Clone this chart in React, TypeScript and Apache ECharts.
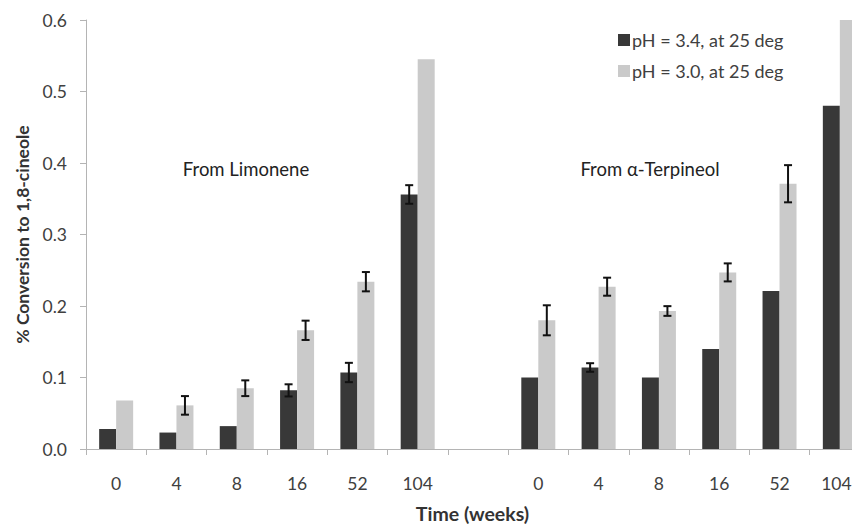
import React, { useEffect, useRef } from "react";
import * as echarts from "echarts";

const categories = ["0", "4", "8", "16", "52", "104", "", "0", "4", "8", "16", "52", "104"];
const seriesNames = ["pH = 3.4, at 25 deg", "pH = 3.0, at 25 deg"];
const ph34Values = [0.028, 0.023, 0.032, 0.082, 0.107, 0.356, null, 0.1, 0.114, 0.1, 0.14, 0.221, 0.48];
const ph30Values = [0.068, 0.061, 0.085, 0.166, 0.234, 0.545, null, 0.18, 0.227, 0.193, 0.247, 0.371, 0.6];
const ph34Errors = [0, 0, 0, 0.0085, 0.0135, 0.013, 0, 0, 0.006, 0, 0, 0, 0];
const ph30Errors = [0, 0.013, 0.011, 0.0135, 0.0135, 0, 0, 0.021, 0.0126, 0.0068, 0.0126, 0.026, 0];
const yTicks = { min: 0, max: 0.6, interval: 0.1 };
const annotations = ["From Limonene", "From α-Terpineol"];

const FONT = "Lato, 'Open Sans', sans-serif";
const BAR_W = 17;

export default function App() {
  const ref = useRef<HTMLDivElement>(null);
  useEffect(() => {
    if (!ref.current) return;
    const chart = echarts.init(ref.current, null, { renderer: "svg" });
    const errData: any[] = [];
    ph34Values.forEach((v, i) => {
      if (v != null && ph34Errors[i] > 0) errData.push([i, v, ph34Errors[i], 0]);
    });
    ph30Values.forEach((v, i) => {
      if (v != null && ph30Errors[i] > 0) errData.push([i, v, ph30Errors[i], 1]);
    });
    const axisData = categories.map((c, i) =>
      i === categories.length - 1 ? { value: c, textStyle: { padding: [0, 7, 0, 0] } } : c
    );
    chart.setOption({
      animation: false,
      grid: { left: 86, top: 20, right: -18, bottom: 75, containLabel: false, outerBoundsMode: "none" },
      legend: {
        orient: "vertical",
        left: 613,
        top: 26,
        itemWidth: 12,
        itemHeight: 12,
        itemGap: 13,
        textStyle: { fontFamily: FONT, fontSize: 18, color: "#404040", padding: [0, 0, 0, -3] },
        data: seriesNames.map((n) => ({ name: n, icon: "rect" })),
      },
      xAxis: {
        type: "category",
        data: axisData,
        name: "Time (weeks)",
        nameLocation: "middle",
        nameGap: 54,
        nameTextStyle: { fontFamily: FONT, fontSize: 19.5, fontWeight: "bold", color: "#333", padding: [0, 11, 0, 0] },
        axisLine: { lineStyle: { color: "#b4b4b4", width: 1 } },
        axisTick: { show: true, length: 6, interval: 0, lineStyle: { color: "#b4b4b4" } },
        axisLabel: { interval: 0, margin: 25, fontFamily: FONT, fontSize: 17.5, color: "#404040" },
      },
      yAxis: {
        type: "value",
        min: yTicks.min,
        max: yTicks.max,
        interval: yTicks.interval,
        name: "% Conversion to 1,8-cineole",
        nameLocation: "middle",
        nameGap: 54,
        nameTextStyle: { fontFamily: FONT, fontSize: 17.5, fontWeight: "bold", color: "#333" },
        axisLine: { show: true, lineStyle: { color: "#b4b4b4", width: 1 } },
        axisTick: { show: true, length: 6, lineStyle: { color: "#b4b4b4" } },
        splitLine: { show: false },
        axisLabel: {
          margin: 19,
          fontFamily: FONT,
          fontSize: 17.5,
          color: "#404040",
          formatter: (v: number) => v.toFixed(1),
        },
      },
      graphic: [
        {
          type: "text",
          x: 246,
          y: 169,
          style: { text: annotations[0], align: "center", verticalAlign: "middle", fontFamily: FONT, fontSize: 18.5, fill: "#222" },
        },
        {
          type: "text",
          x: 650,
          y: 169,
          style: { text: annotations[1], align: "center", verticalAlign: "middle", fontFamily: FONT, fontSize: 18.5, fill: "#222" },
        },
      ],
      series: [
        {
          name: seriesNames[0],
          type: "bar",
          data: ph34Values,
          barWidth: BAR_W,
          barGap: "0%",
          itemStyle: { color: "#383838" },
        },
        {
          name: seriesNames[1],
          type: "bar",
          data: ph30Values,
          barWidth: BAR_W,
          barGap: "0%",
          itemStyle: { color: "#cacaca" },
        },
        {
          type: "custom",
          z: 10,
          data: errData,
          renderItem: (params: any, api: any) => {
            const idx = api.value(0);
            const v = api.value(1);
            const e = api.value(2);
            const s = api.value(3);
            const off = s === 0 ? -BAR_W / 2 : BAR_W / 2;
            const hi = api.coord([idx, v + e]);
            const lo = api.coord([idx, v - e]);
            const x = hi[0] + off;
            const cap = 4;
            const st = { stroke: "#111", lineWidth: 2 };
            return {
              type: "group",
              children: [
                { type: "line", shape: { x1: x, y1: hi[1], x2: x, y2: lo[1] }, style: st },
                { type: "line", shape: { x1: x - cap, y1: hi[1], x2: x + cap, y2: hi[1] }, style: st },
                { type: "line", shape: { x1: x - cap, y1: lo[1], x2: x + cap, y2: lo[1] }, style: st },
              ],
            };
          },
        },
      ],
    });
    return () => chart.dispose();
  }, []);
  return <div ref={ref} style={{ position: "absolute", left: 0, top: 0, width: 852, height: 524 }} />;
}
